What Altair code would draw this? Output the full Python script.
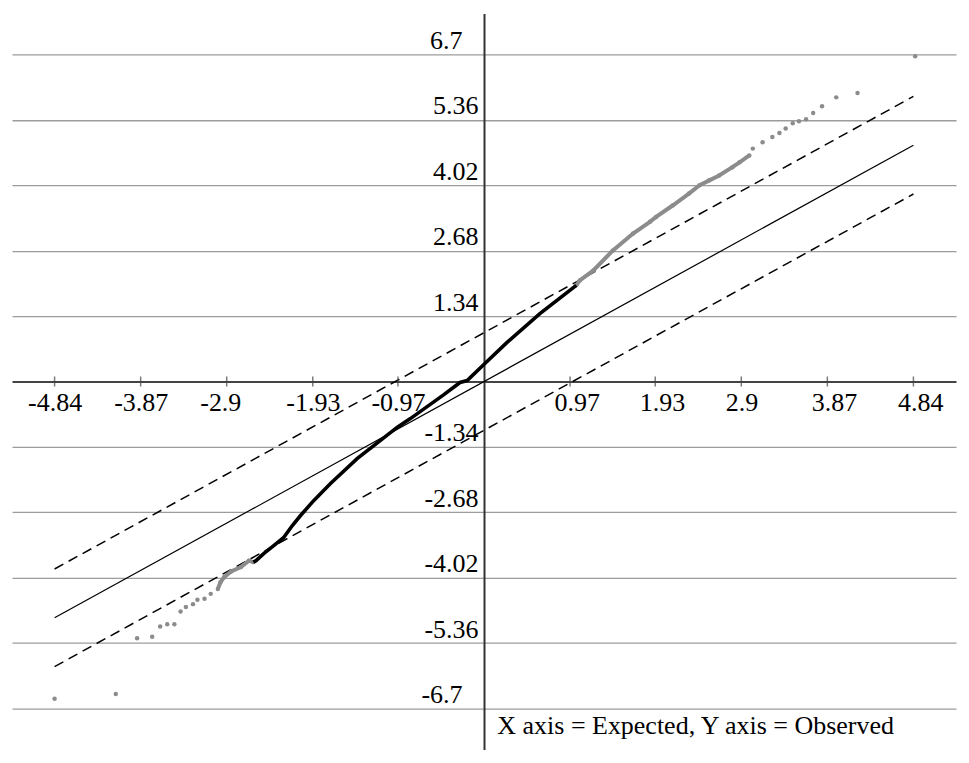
import altair as alt
import pandas as pd

# axis tick values
x_ticks = [-4.84, -3.87, -2.9, -1.93, -0.97, 0.97, 1.93, 2.9, 3.87, 4.84]
y_ticks = [-6.7, -5.36, -4.02, -2.68, -1.34, 1.34, 2.68, 4.02, 5.36, 6.7]

# reference line (expected = observed) and confidence band
ref_x = [-4.84, 4.84]
ref_y = [-4.84, 4.84]
upper_y = [-3.84, 5.84]
lower_y = [-5.84, 3.84]

# central part of the observed quantiles (dense, black)
black_x = [-2.60, -2.57, -2.48, -2.37, -2.26, -2.16, -2.07, -1.92, -1.73, -1.43,
           -1.17, -0.98, -0.83, -0.46, -0.27, -0.19, 0.01, 0.26, 0.63, 1.04]
black_y = [-3.70, -3.67, -3.52, -3.36, -3.20, -2.95, -2.75, -2.44, -2.09, -1.58,
           -1.21, -0.94, -0.76, -0.28, -0.02, 0.02, 0.37, 0.80, 1.39, 1.97]

# tails of the observed quantiles (grey)
hi_x = [1.04, 1.08, 1.23, 1.45, 1.68, 1.87, 1.94, 2.13, 2.31, 2.43, 2.54, 2.65,
        2.80, 2.88, 2.99, 3.03, 3.14, 3.25, 3.33, 3.40, 3.48, 3.55, 3.63, 3.71,
        3.81, 3.97, 4.21, 4.86]
hi_y = [1.97, 2.07, 2.27, 2.68, 3.03, 3.27, 3.37, 3.61, 3.85, 4.02, 4.12, 4.22,
        4.39, 4.49, 4.63, 4.77, 4.90, 5.01, 5.09, 5.18, 5.29, 5.33, 5.37, 5.50,
        5.64, 5.82, 5.91, 6.66]
lo_x = [-2.60, -2.65, -2.74, -2.85, -2.93, -2.97, -3.00, -3.08, -3.15, -3.23,
        -3.28, -3.36, -3.42, -3.49, -3.57, -3.65, -3.74, -3.91, -4.15, -4.84]
lo_y = [-3.70, -3.67, -3.80, -3.89, -4.01, -4.11, -4.25, -4.35, -4.45, -4.47,
        -4.56, -4.62, -4.71, -4.97, -4.97, -5.02, -5.23, -5.26, -6.40, -6.50]
hi_dense_n = 15   # points of the upper tail drawn as a continuous band
lo_dense_n = 7    # points of the lower tail drawn as a continuous band

note = "X axis = Expected, Y axis = Observed"

FONT = "Liberation Serif"
W, H = 945, 737
XDOM = [-5.32, 5.32]
YDOM = [-7.54, 7.54]

xs = alt.Scale(domain=XDOM, nice=False, zero=False)
ys = alt.Scale(domain=YDOM, nice=False, zero=False)

x_axis = alt.Axis(
    values=x_ticks, orient="bottom", offset=-H / 2, title=None,
    domainColor="#444444", domainWidth=2, ticks=False, tickSize=0, grid=False,
    labelFont=FONT, labelFontSize=26, labelColor="black",
    labelAlign="left", labelBaseline="alphabetic", labelPadding=29,
    labelOffset={"condition": {"test": "datum.value < 0", "value": -27}, "value": -16},
    labelExpr="'' + datum.value", labelOverlap=False, labelFlush=False,
)
y_axis = alt.Axis(
    values=y_ticks, orient="left", offset=-W / 2, title=None,
    domainColor="#333333", domainWidth=2, ticks=False, tickSize=0,
    grid=True, gridColor="#9c9c9c", gridWidth=1.3,
    labelFont=FONT, labelFontSize=26, labelColor="black",
    labelAlign="right", labelBaseline="alphabetic", labelOffset=-6,
    labelPadding={"condition": {"test": "abs(datum.value) > 6", "value": 22}, "value": 6},
    labelExpr="'' + datum.value", labelOverlap=False, labelFlush=False,
)

X = alt.X("x:Q", scale=xs, axis=x_axis)
Y = alt.Y("y:Q", scale=ys, axis=y_axis)

ref_df = pd.DataFrame({"x": ref_x, "y": ref_y})
up_df = pd.DataFrame({"x": ref_x, "y": upper_y})
low_df = pd.DataFrame({"x": ref_x, "y": lower_y})
black_df = pd.DataFrame({"x": black_x, "y": black_y}).reset_index()
hi_df = pd.DataFrame({"x": hi_x, "y": hi_y}).reset_index()
lo_df = pd.DataFrame({"x": lo_x, "y": lo_y}).reset_index()
tick_df = pd.DataFrame({"x": x_ticks, "y": [0] * len(x_ticks)})
note_df = pd.DataFrame({"x": [0.15], "y": [-7.21], "t": [note]})

ref_line = alt.Chart(ref_df).mark_line(color="black", strokeWidth=1.2).encode(x=X, y=Y)
up_line = alt.Chart(up_df).mark_line(color="black", strokeWidth=1.5, strokeDash=[10, 6]).encode(x=X, y=Y)
lo_line = alt.Chart(low_df).mark_line(color="black", strokeWidth=1.5, strokeDash=[10, 6]).encode(x=X, y=Y)
ticks = alt.Chart(tick_df).mark_tick(color="#444444", orient="vertical", size=10, thickness=1.5).encode(x=X, y=Y)
hi_band = alt.Chart(hi_df.iloc[:hi_dense_n]).mark_line(color="#8c8c8c", strokeWidth=4).encode(
    x=X, y=Y, order="index:Q")
lo_band = alt.Chart(lo_df.iloc[:lo_dense_n]).mark_line(color="#8c8c8c", strokeWidth=4).encode(
    x=X, y=Y, order="index:Q")
hi_pts = alt.Chart(hi_df).mark_circle(color="#8c8c8c", size=20, opacity=1).encode(x=X, y=Y)
lo_pts = alt.Chart(lo_df).mark_circle(color="#8c8c8c", size=20, opacity=1).encode(x=X, y=Y)
black_line = alt.Chart(black_df).mark_line(color="black", strokeWidth=3.6).encode(
    x=X, y=Y, order="index:Q")
note_txt = alt.Chart(note_df).mark_text(
    font=FONT, fontSize=26, color="black", align="left", baseline="alphabetic"
).encode(x=X, y=Y, text="t:N")

chart = alt.layer(
    ref_line, up_line, lo_line, ticks, hi_band, lo_band, hi_pts, lo_pts, black_line, note_txt
).properties(
    width=W, height=H,
    autosize=alt.AutoSizeParams(type="none"),
    padding={"left": 4, "top": 5, "right": 5, "bottom": 5},
    background="white",
).configure_view(stroke=None)

chart.save("out.html", embed_options={"renderer": "svg", "actions": False})
